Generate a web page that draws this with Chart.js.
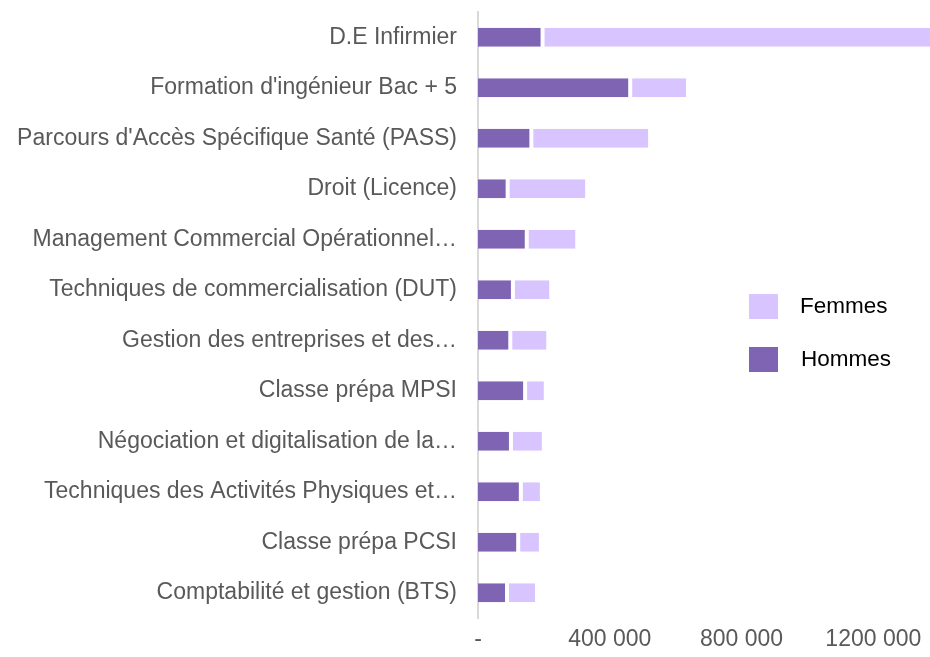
<!DOCTYPE html>
<html>
<head>
<meta charset="utf-8">
<script src="https://cdn.jsdelivr.net/npm/chart.js@4/dist/chart.umd.min.js"></script>
<style>
    html, body { margin: 0; padding: 0; background: #fff; }
    #wrap { position: relative; width: 930px; height: 657px; }
</style>
</head>
<body>
<div id="wrap"><canvas id="chart" width="930" height="657"></canvas></div>
<script>
// Formations (ordre de haut en bas)
const categories = [
    "D.E Infirmier",
    "Formation d'ingénieur Bac + 5",
    "Parcours d'Accès Spécifique Santé (PASS)",
    "Droit (Licence)",
    "Management Commercial Opérationnel…",
    "Techniques de commercialisation (DUT)",
    "Gestion des entreprises et des…",
    "Classe prépa MPSI",
    "Négociation et digitalisation de la…",
    "Techniques des Activités Physiques et…",
    "Classe prépa PCSI",
    "Comptabilité et gestion (BTS)"
];
const hommes = [196000, 462000, 162000, 90000, 148000, 106000, 98000, 143000, 100000, 130000, 122000, 88000];
const femmes = [1180000, 170000, 355000, 236000, 148000, 111000, 110000, 57000, 94000, 58000, 63000, 85000];
const xTicks = [0, 400000, 800000, 1200000];

const colHommes = "#8064b4";
const colFemmes = "#d8c4fe";
const fontFamily = "'Liberation Sans', Arial, sans-serif";

// Formatage des nombres: 400 000, "-" pour zéro
function formatNumber(v) {
    if (v === 0) return "-";
    if (v >= 1000000) return Math.floor(v / 1000) + " " + String(v % 1000).padStart(3, "0");
    return String(v).replace(/\B(?=(\d{3})+(?!\d))/g, " ");
}

// Légende dessinée à droite, par-dessus la zone du graphique
const sideLegend = {
    id: "sideLegend",
    afterDraw(chart) {
        const ctx = chart.ctx;
        const items = [chart.data.datasets[1], chart.data.datasets[0]];
        ctx.save();
        ctx.font = "22.5px " + fontFamily;
        ctx.textBaseline = "middle";
        ctx.textAlign = "left";
        items.forEach((ds, i) => {
            const y = 294 + i * 53;
            ctx.fillStyle = ds.backgroundColor;
            ctx.fillRect(749, y, 29, 25);
            ctx.fillStyle = "#000000";
            ctx.fillText(ds.label, 800 + i, y + 13);
        });
        ctx.restore();
    }
};

const ctx = document.getElementById("chart").getContext("2d");
new Chart(ctx, {
    type: "bar",
    data: {
        labels: categories,
        datasets: [
            {
                label: "Hommes",
                data: hommes,
                backgroundColor: colHommes,
                borderColor: "#ffffff",
                borderWidth: { right: 2 },
                borderSkipped: false,
                barPercentage: 0.38,
                categoryPercentage: 1
            },
            {
                label: "Femmes",
                data: femmes,
                backgroundColor: colFemmes,
                borderColor: "#ffffff",
                borderWidth: { left: 2 },
                borderSkipped: false,
                barPercentage: 0.38,
                categoryPercentage: 1
            }
        ]
    },
    options: {
        indexAxis: "y",
        responsive: false,
        animation: false,
        layout: { padding: { top: 12, right: 0, bottom: 3, left: 0 } },
        plugins: {
            legend: { display: false },
            tooltip: { enabled: false }
        },
        scales: {
            x: {
                stacked: true,
                min: 0,
                max: 1372000,
                afterBuildTicks: scale => { scale.ticks = xTicks.map(v => ({ value: v })); },
                afterFit: scale => { scale.height = 36; },
                grid: { display: false, drawTicks: false },
                border: { display: false },
                ticks: {
                    color: "#595959",
                    font: { family: fontFamily, size: 23 },
                    padding: 8,
                    maxRotation: 0,
                    callback: v => formatNumber(v)
                }
            },
            y: {
                stacked: true,
                afterFit: scale => {
                    scale.width = 478;
                    scale.paddingTop = 0;
                    scale.paddingBottom = 0;
                },
                grid: { display: false, drawTicks: false },
                border: { display: true, color: "#d9d9d9", width: 2 },
                ticks: {
                    color: "#595959",
                    font: { family: fontFamily, size: 23 },
                    padding: 21,
                    autoSkip: false
                }
            }
        }
    },
    plugins: [sideLegend]
});
</script>
</body>
</html>
